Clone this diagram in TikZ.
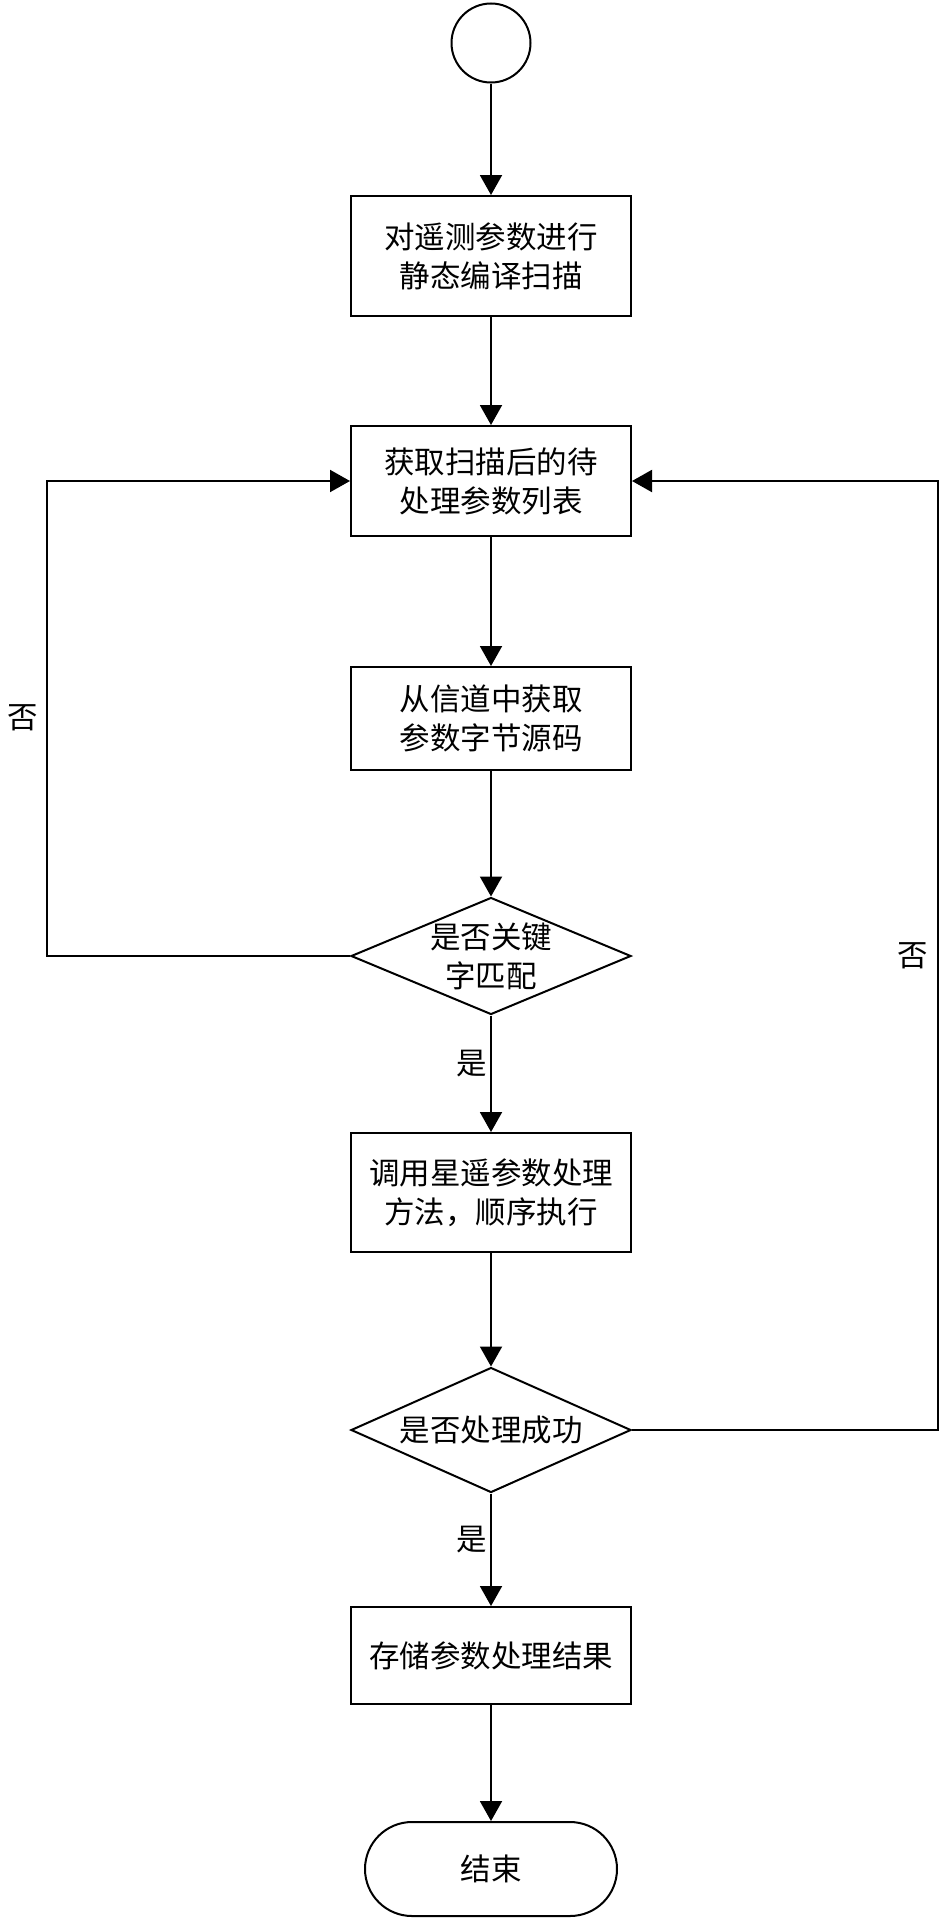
\documentclass[tikz,border=0pt]{standalone}
\usepackage{fontspec}
\newfontfamily\cjk{Noto Sans CJK SC}
\usetikzlibrary{shapes.geometric,arrows.meta}
\tikzset{
  base/.style={draw=black, line width=2pt, inner sep=0pt, align=center, font=\cjk\fontsize{30.5}{39}\selectfont},
  procbox/.style={base, rectangle, minimum width=280pt},
  dia/.style={base, diamond, minimum width=280pt},
  txt/.style={inner sep=0pt, align=center, font=\cjk\fontsize{30.5}{39}\selectfont},
  arr/.style={line width=2pt, -{Triangle[width=22pt,length=20pt]}},
  ln/.style={line width=2pt}
}
\begin{document}
\begin{tikzpicture}[x=1pt,y=-1pt]
\useasboundingbox (0,0) rectangle (945,1919);
\node[base, circle, minimum size=79pt] (start) at (491,43) {};
\node[procbox, minimum height=120pt] (b1) at (491,256) {对遥测参数进行\\静态编译扫描};
\node[procbox, minimum height=110pt] (b2) at (491,481) {获取扫描后的待\\处理参数列表};
\node[procbox, minimum height=103pt] (b3) at (491,718.5) {从信道中获取\\参数字节源码};
\node[dia, minimum height=117pt, label={[txt]center:是否关键\\字匹配}] (d1) at (491,956) {};
\node[procbox, minimum height=119pt] (b4) at (491,1192.5) {调用星遥参数处理\\方法，顺序执行};
\node[dia, minimum height=125pt, label={[txt]center:是否处理成功}] (d2) at (491,1430) {};
\node[procbox, minimum height=97pt] (b5) at (491,1655.5) {存储参数处理结果};
\node[base, rectangle, rounded corners=47pt, minimum width=252pt, minimum height=94pt] (end) at (491,1869) {结束};

\coordinate (lc) at (47,956);
\coordinate (rc) at (938,1430);

\draw[arr] (start) -- (b1);
\draw[arr] (b1) -- (b2);
\draw[arr] (b2) -- (b3);
\draw[arr] (b3) -- (d1);
\draw[arr] (d1) -- (b4);
\draw[arr] (b4) -- (d2);
\draw[arr] (d2) -- (b5);
\draw[arr] (b5) -- (end);
\draw[arr] (d1.west) -- (lc) |- (b2.west);
\draw[arr] (d2.east) -- (rc) |- (b2.east);

\node[txt] (no1) at (23,718) {否};
\node[txt] (no2) at (913,956) {否};
\node[txt] (yes1) at (472,1064) {是};
\node[txt] (yes2) at (472,1540) {是};
\end{tikzpicture}
\end{document}
